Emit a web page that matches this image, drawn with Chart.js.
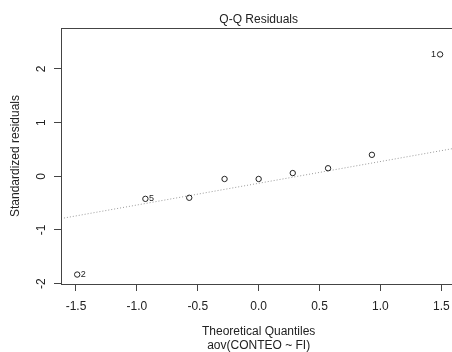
<!DOCTYPE html>
<html>
<head>
<meta charset="utf-8">
<title>Q-Q Residuals</title>
<script src="https://cdn.jsdelivr.net/npm/chart.js@4/dist/chart.umd.min.js"></script>
<style>
  html, body { margin: 0; padding: 0; background: #ffffff; overflow: hidden; }
  #wrap { width: 452px; height: 352px; overflow: hidden; }
  canvas { display: block; }
</style>
</head>
<body>
<div id="wrap"><canvas id="qq" width="460" height="352"></canvas></div>
<script>
// Normal Q-Q plot of standardized residuals from aov(CONTEO ~ FI)
const theoQuantiles = [-1.49, -0.93, -0.57, -0.28, 0.00, 0.28, 0.57, 0.93, 1.49];
const stdResiduals  = [-1.83, -0.42, -0.40, -0.05, -0.05, 0.06, 0.15, 0.40, 2.27];
const obsLabels     = ['2', '5', '', '', '', '', '', '', '1'];

// reference line through the quartiles
const qqLineIntercept = -0.13;
const qqLineSlope = 0.405;

const xTicks = [-1.5, -1.0, -0.5, 0.0, 0.5, 1.0, 1.5];
const yTicks = [-2, -1, 0, 1, 2];
const xLimits = [-1.623, 1.623];
const yLimits = [-2.006, 2.762];

const INK = '#222222';
const FRAME = '#444444';
const FONT = '"Liberation Sans", Arial, Helvetica, sans-serif';

Chart.defaults.font.family = FONT;
Chart.defaults.font.size = 12;
Chart.defaults.color = INK;

const points = theoQuantiles.map((q, i) => ({ x: q, y: stdResiduals[i] }));
const linePts = xLimits.map(x => ({ x: x, y: qqLineIntercept + qqLineSlope * x }));

// box around the plotting region
const framePlugin = {
  id: 'frame',
  afterDraw(chart) {
    const { ctx, chartArea: a } = chart;
    ctx.save();
    ctx.strokeStyle = FRAME;
    ctx.lineWidth = 1;
    ctx.strokeRect(a.left + 0.5, a.top + 0.5, a.right - a.left, a.bottom - a.top);
    ctx.restore();
  }
};

// main heading, centred over the plotting region
const headingPlugin = {
  id: 'heading',
  afterDraw(chart) {
    const { ctx, chartArea: a } = chart;
    ctx.save();
    ctx.font = '12px ' + FONT;
    ctx.fillStyle = INK;
    ctx.textAlign = 'center';
    ctx.textBaseline = 'middle';
    ctx.fillText('Q-Q Residuals', (a.left + a.right) / 2, 19.5);
    ctx.restore();
  }
};

// observation numbers next to the most extreme residuals
const idPlugin = {
  id: 'obsIds',
  afterDatasetsDraw(chart) {
    const { ctx } = chart;
    const meta = chart.getDatasetMeta(0);
    ctx.save();
    ctx.font = '9px ' + FONT;
    ctx.fillStyle = INK;
    ctx.textBaseline = 'middle';
    meta.data.forEach((el, i) => {
      const lab = obsLabels[i];
      if (!lab) return;
      if (theoQuantiles[i] < 0) {
        ctx.textAlign = 'left';
        ctx.fillText(lab, el.x + 3.5, el.y);
      } else {
        ctx.textAlign = 'right';
        ctx.fillText(lab, el.x - 4, el.y);
      }
    });
    ctx.restore();
  }
};

new Chart(document.getElementById('qq'), {
  type: 'scatter',
  data: {
    datasets: [
      {
        label: 'residuals',
        data: points,
        showLine: false,
        pointStyle: 'circle',
        pointRadius: 2.7,
        pointHoverRadius: 2.7,
        pointBorderWidth: 1,
        pointBorderColor: INK,
        pointBackgroundColor: 'rgba(0,0,0,0)'
      },
      {
        label: 'qqline',
        type: 'line',
        data: linePts,
        showLine: true,
        pointRadius: 0,
        borderColor: '#9a9a9a',
        borderWidth: 1,
        borderDash: [1, 2],
        fill: false
      }
    ]
  },
  options: {
    responsive: false,
    animation: false,
    events: [],
    layout: { padding: { top: 28, right: 3, left: 0, bottom: 0 } },
    plugins: {
      legend: { display: false },
      title: { display: false },
      tooltip: { enabled: false }
    },
    scales: {
      x: {
        type: 'linear',
        position: 'bottom',
        min: xLimits[0],
        max: xLimits[1],
        afterBuildTicks(scale) { scale.ticks = xTicks.map(v => ({ value: v })); },
        afterFit(scale) { scale.height = 68; },
        border: { display: false },
        grid: { drawOnChartArea: false, drawTicks: true, tickLength: 7, color: FRAME, lineWidth: 1 },
        ticks: {
          autoSkip: false,
          maxRotation: 0,
          minRotation: 0,
          padding: 8,
          color: INK,
          font: { size: 12 },
          callback: v => Number(v).toFixed(1)
        },
        title: {
          display: true,
          text: ['Theoretical Quantiles', 'aov(CONTEO ~ FI)'],
          color: INK,
          font: { size: 12, lineHeight: 14 / 12 },
          padding: { top: 0, bottom: -1 }
        }
      },
      y: {
        type: 'linear',
        position: 'left',
        min: yLimits[0],
        max: yLimits[1],
        afterBuildTicks(scale) { scale.ticks = yTicks.map(v => ({ value: v })); },
        afterFit(scale) { scale.width = 61; },
        border: { display: false },
        grid: { drawOnChartArea: false, drawTicks: true, tickLength: 7, color: FRAME, lineWidth: 1 },
        ticks: {
          autoSkip: false,
          minRotation: 90,
          maxRotation: 90,
          crossAlign: 'center',
          padding: 7,
          color: INK,
          font: { size: 12 },
          callback: v => String(v)
        },
        title: {
          display: true,
          text: 'Standardized residuals',
          color: INK,
          font: { size: 12, lineHeight: 14 / 12 },
          padding: { top: 9, bottom: 0 }
        }
      }
    }
  },
  plugins: [framePlugin, headingPlugin, idPlugin]
});
</script>
</body>
</html>
